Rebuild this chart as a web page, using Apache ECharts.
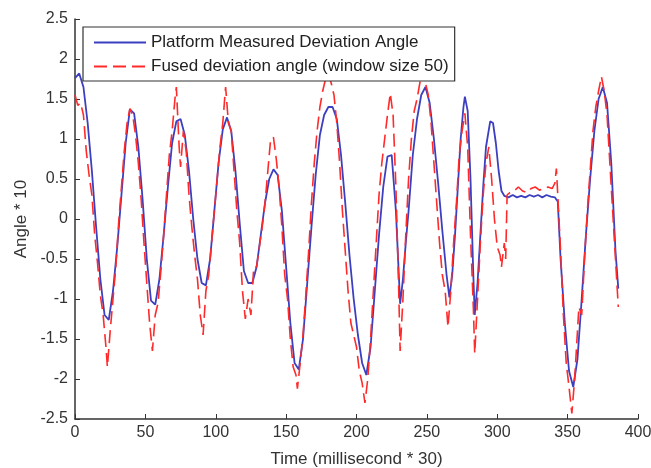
<!DOCTYPE html>
<html>
<head>
<meta charset="utf-8">
<script src="https://cdn.jsdelivr.net/npm/echarts@6/dist/echarts.min.js"></script>
<style>
  html, body { margin: 0; padding: 0; background: #fff; }
  #main { width: 651px; height: 468px; }
</style>
</head>
<body>
<div id="main"></div>
<script>
// x ticks / y ticks
var xTicks = [0, 50, 100, 150, 200, 250, 300, 350, 400];
var yTicks = [-2.5, -2, -1.5, -1, -0.5, 0, 0.5, 1, 1.5, 2, 2.5];

// Platform measured deviation angle (blue)
var blueX = [0, 3, 6, 9, 12, 15, 18, 21, 24, 27, 30, 33, 36, 39, 42, 45, 48, 51, 54, 57,
  60, 63, 66, 69, 72, 75, 78, 81, 84, 87, 90, 93, 96, 99, 102, 105, 108, 111, 114, 117,
  120, 123, 126, 129, 132, 135, 138, 141, 144, 147, 150, 153, 156, 159, 162, 165, 168, 171, 174, 177,
  180, 183, 186, 189, 192, 195, 198, 201, 204, 207, 210, 213, 216, 219, 222, 225, 228, 231, 233, 235,
  237, 240, 243, 246, 249, 252, 255, 258, 261, 264, 266, 268, 270, 272, 274, 276, 277, 279, 281, 283,
  284, 286, 288, 290, 292, 295, 297, 299, 301, 303, 305, 308, 311, 314, 317, 320, 323, 326, 329, 332,
  335, 338, 341, 343, 345, 348, 351, 354, 357, 360, 363, 366, 369, 372, 375, 378, 381, 384, 386];
var blueY = [1.76, 1.82, 1.65, 1.2, 0.6, -0.1, -0.75, -1.2, -1.26, -0.9, -0.35, 0.3, 0.95, 1.37, 1.32, 0.9, 0.25, -0.5, -1.02, -1.07,
  -0.75, -0.2, 0.4, 0.95, 1.22, 1.25, 1.05, 0.6, 0.0, -0.5, -0.8, -0.83, -0.5, 0.1, 0.7, 1.12, 1.27, 1.1, 0.6, -0.05,
  -0.65, -0.8, -0.8, -0.6, -0.2, 0.2, 0.5, 0.62, 0.55, 0.1, -0.6, -1.3, -1.8, -1.88, -1.5, -0.8, -0.1, 0.55, 1.05, 1.3,
  1.4, 1.4, 1.25, 0.8, 0.2, -0.45, -1.0, -1.45, -1.8, -1.95, -1.6, -0.9, -0.2, 0.4, 0.78, 0.8, 0.1, -1.06, -0.75, -0.3,
  0.1, 0.8, 1.25, 1.55, 1.65, 1.45, 1.0, 0.45, -0.15, -0.7, -0.98, -0.7, -0.2, 0.4, 1.0, 1.4, 1.53, 1.35, 0.5, -0.7,
  -1.2, -0.8, -0.2, 0.4, 0.9, 1.22, 1.2, 0.95, 0.6, 0.35, 0.29, 0.27, 0.3, 0.27, 0.29, 0.27, 0.3, 0.28, 0.3, 0.27,
  0.3, 0.28, 0.27, 0.22, -0.5, -1.3, -1.9, -2.1, -1.75, -1.0, -0.2, 0.5, 1.1, 1.5, 1.65, 1.45, 0.7, -0.4, -0.87];

// Fused deviation angle, window size 50 (red dashed)
var redX = [0, 2, 4, 6, 8, 10, 12, 14, 16, 18, 20, 22, 23, 25, 27, 29, 31, 33, 35, 37,
  39, 41, 43, 45, 47, 49, 51, 53, 55, 57, 59, 61, 63, 65, 67, 69, 71, 72, 74, 75,
  77, 79, 81, 83, 85, 87, 89, 91, 93, 95, 97, 99, 101, 103, 105, 107, 109, 111, 113, 115,
  117, 119, 121, 123, 125, 127, 129, 131, 133, 135, 137, 139, 141, 143, 145, 147, 149, 151, 153, 155,
  157, 158, 160, 162, 164, 166, 168, 170, 172, 174, 176, 178, 180, 182, 184, 186, 188, 190, 192, 194,
  196, 198, 200, 202, 204, 206, 208, 210, 212, 214, 216, 218, 220, 222, 224, 226, 228, 230, 231, 233,
  235, 237, 239, 241, 243, 245, 247, 249, 251, 253, 255, 257, 259, 261, 263, 265, 267, 269, 271, 273,
  275, 277, 279, 281, 283, 284, 286, 288, 290, 292, 294, 296, 298, 300, 302, 303, 305, 306, 307, 309,
  312, 315, 318, 321, 324, 327, 330, 333, 336, 339, 341, 342, 343, 345, 347, 349, 351, 353, 355, 357,
  358, 360, 362, 364, 366, 368, 370, 372, 374, 376, 378, 380, 382, 384, 386];
var redY = [1.55, 1.42, 1.45, 1.3, 0.85, 0.55, 0.3, -0.2, -0.55, -0.95, -1.2, -1.6, -1.85, -1.4, -1.0, -0.6, -0.05, 0.4, 0.85, 1.2,
  1.38, 1.3, 1.05, 0.7, 0.25, -0.3, -0.8, -1.3, -1.65, -1.2, -1.05, -0.65, -0.2, 0.3, 0.8, 1.1, 1.5, 1.65, 0.9, 0.65,
  1.1, 0.85, 0.3, -0.1, -0.45, -0.75, -1.2, -1.45, -0.9, -0.7, -0.3, 0.1, 0.5, 0.9, 1.2, 1.65, 1.2, 1.1, 0.6, 0.1,
  -0.3, -0.9, -1.25, -1.0, -1.2, -0.6, -0.6, -0.35, -0.1, 0.2, 0.6, 1.0, 1.02, 0.75, 0.4, -0.1, -0.7, -1.0, -1.5, -1.85,
  -1.95, -2.12, -1.8, -1.45, -0.95, -0.4, 0.2, 0.7, 1.1, 1.4, 1.6, 1.75, 1.82, 1.7, 1.55, 1.2, 0.7, 0.1, -0.4, -0.9,
  -1.3, -1.45, -1.6, -1.9, -2.05, -2.3, -2.0, -1.5, -0.9, -0.3, 0.3, 0.7, 1.0, 1.3, 1.57, 1.3, 0.4, -0.9, -1.65, -1.0,
  -0.2, 0.5, 1.0, 1.35, 1.5, 1.7, 1.85, 1.7, 1.55, 1.2, 0.7, 0.2, -0.3, -0.7, -0.9, -1.35, -0.9, -0.3, 0.2, 0.8,
  1.1, 1.32, 0.9, -0.2, -1.1, -1.68, -1.0, -0.3, 0.3, 0.7, 0.9, 0.5, 0.0, -0.35, -0.45, -0.6, -0.3, -0.5, 0.3, 0.33,
  0.35, 0.4, 0.35, 0.33, 0.38, 0.4, 0.36, 0.38, 0.4, 0.38, 0.45, 0.63, 0.3, -0.4, -1.2, -1.8, -2.1, -2.43, -2.0, -1.4,
  -1.1, -1.2, -0.5, 0.1, 0.6, 1.1, 1.4, 1.6, 1.78, 1.6, 1.3, 0.7, 0.1, -0.5, -1.1];

var seriesNames = ['Platform Measured Deviation Angle', 'Fused deviation angle (window size 50)'];

function pairs(xs, ys) {
  return xs.map(function (x, i) { return [x, ys[i]]; });
}

var chart = echarts.init(document.getElementById('main'), null, { renderer: 'canvas' });

var font = 'Liberation Sans, Arial, sans-serif';

var option = {
  animation: false,
  backgroundColor: '#fff',
  textStyle: { fontFamily: font },
  grid: { left: 75, right: 13, top: 19, bottom: 49, containLabel: false, outerBoundsMode: 'none' },
  legend: {
    orient: 'vertical',
    left: 83,
    top: 27,
    z: 10,
    padding: [7, 6, 6, 10],
    itemGap: 7,
    itemWidth: 52,
    itemHeight: 16,
    borderColor: '#333',
    borderWidth: 1.2,
    backgroundColor: '#fff',
    itemStyle: { opacity: 0 },
    textStyle: { fontFamily: font, fontSize: 17, color: '#222' },
    data: seriesNames
  },
  xAxis: {
    type: 'value',
    min: xTicks[0],
    max: xTicks[xTicks.length - 1],
    interval: 50,
    name: 'Time (millisecond * 30)',
    nameLocation: 'middle',
    nameGap: 32,
    nameTextStyle: { fontFamily: font, fontSize: 17, color: '#333' },
    axisLine: { onZero: false, lineStyle: { color: '#333', width: 1.5 } },
    axisTick: { inside: true, length: 5, lineStyle: { color: '#333' } },
    axisLabel: { fontFamily: font, fontSize: 16, color: '#333', margin: 6 },
    splitLine: { show: false }
  },
  yAxis: {
    type: 'value',
    min: yTicks[0],
    max: yTicks[yTicks.length - 1],
    interval: 0.5,
    name: 'Angle * 10',
    nameLocation: 'middle',
    nameRotate: 90,
    nameGap: 40,
    nameTextStyle: { fontFamily: font, fontSize: 17, color: '#333' },
    axisLine: { show: true, onZero: false, lineStyle: { color: '#333', width: 1.5 } },
    axisTick: { show: true, inside: true, length: 5, lineStyle: { color: '#333' } },
    axisLabel: { fontFamily: font, fontSize: 16, color: '#333', margin: 7 },
    splitLine: { show: false }
  },
  series: [
    {
      name: seriesNames[0],
      type: 'line',
      data: pairs(blueX, blueY),
      showSymbol: false,
      symbol: 'none',
      z: 3,
      color: '#3c3fbf',
      lineStyle: { color: '#3c3fbf', width: 1.8 }
    },
    {
      name: seriesNames[1],
      type: 'line',
      data: pairs(redX, redY),
      showSymbol: false,
      symbol: 'none',
      z: 4,
      color: '#ff2a2a',
      lineStyle: { color: '#ff2a2a', width: 1.6, type: [13, 6] }
    }
  ]
};

chart.setOption(option);
</script>
</body>
</html>
